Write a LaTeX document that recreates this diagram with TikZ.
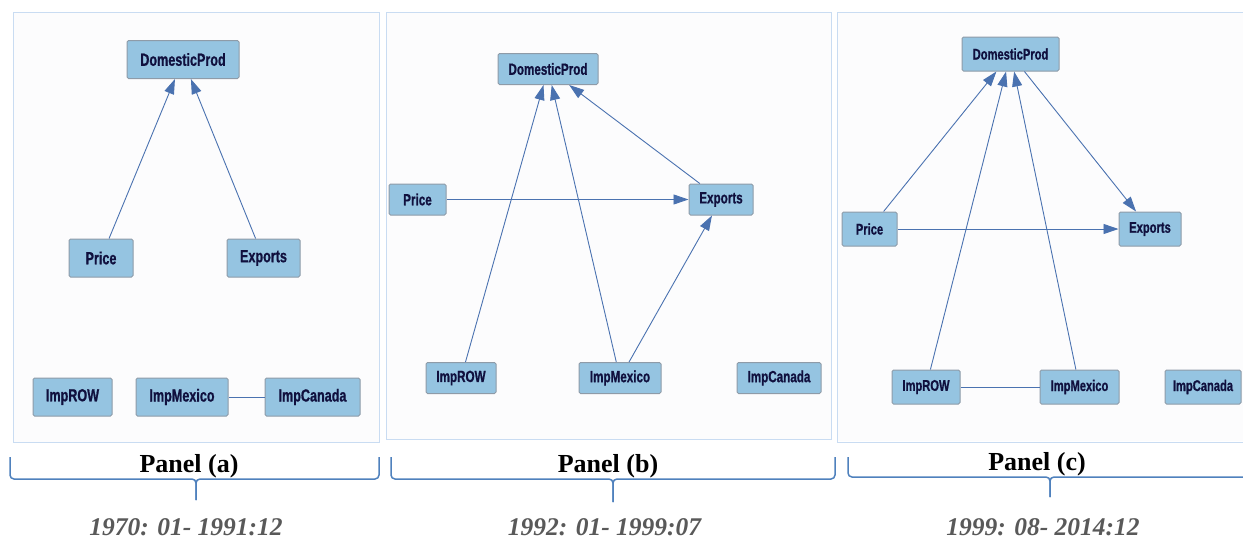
\documentclass[tikz,border=0pt]{standalone}
\usepackage{fontspec}
\setmainfont{Liberation Serif}
\newfontfamily\nodefont[FakeStretch=0.72, BoldFeatures={FakeBold=0.8}]{Liberation Sans}
\usetikzlibrary{arrows.meta}
\definecolor{nodefill}{HTML}{95C4E1}
\definecolor{nodeline}{HTML}{8E9BA8}
\definecolor{nodetext}{HTML}{10103E}
\definecolor{edgecol}{HTML}{4A72B0}
\definecolor{framecol}{HTML}{C9DCF2}
\definecolor{framefill}{HTML}{FCFCFD}
\definecolor{bracecol}{HTML}{4F81BD}
\definecolor{datecol}{HTML}{595959}
\tikzset{
  var/.style={draw=nodeline, line width=1pt, fill=nodefill, rounded corners=1.5pt,
    text=nodetext, inner sep=0pt, font=\nodefont\bfseries},
  vara/.style={var, minimum height=38pt, font=\nodefont\bfseries\fontsize{17.5}{18}\selectfont},
  varb/.style={var, minimum height=31pt, font=\nodefont\bfseries\fontsize{16.2}{17}\selectfont},
  varc/.style={var, minimum height=34pt, font=\nodefont\bfseries\fontsize{15.5}{16}\selectfont},
  dir/.style={draw=edgecol, line width=0.9pt, -{Triangle[length=15pt,width=10pt]}},
  undir/.style={draw=edgecol, line width=0.9pt},
  panelframe/.style={draw=framecol, line width=1pt, fill=framefill},
  bracestyle/.style={draw=bracecol, line width=1.5pt, rounded corners=4pt},
  paneltitle/.style={font=\bfseries\fontsize{26}{28}\selectfont, inner sep=0pt, anchor=base},
  datetext/.style={font=\bfseries\itshape\fontsize{25.5}{27}\selectfont, text=datecol,
    inner sep=0pt, text depth=0pt, anchor=base}
}
\begin{document}
\begin{tikzpicture}[x=1pt,y=-1pt]
\useasboundingbox (0,0) rectangle (1243,539);
% frames
\path[panelframe] (13,12) rectangle (379,442);
\path[panelframe] (386,12) rectangle (831,439);
\fill[framefill] (838,13) rectangle (1243,441);
\draw[framecol, line width=1pt] (1245,12) -- (837,12) -- (837,442) -- (1245,442);

% Panel (a)
\node[vara, minimum width=112pt] (aDP) at (183,59.5) {DomesticProd};
\node[vara, minimum width=64pt] (aPr) at (101,258) {Price};
\node[vara, minimum width=73pt] (aEx) at (263.5,258) {Exports};
\node[vara, minimum width=79pt] (aRow) at (72.5,397) {ImpROW};
\node[vara, minimum width=92pt] (aMex) at (182,397) {ImpMexico};
\node[vara, minimum width=95pt] (aCan) at (312.5,397) {ImpCanada};
\draw[dir] (aPr) -- (aDP);
\draw[dir] (aEx) -- (aDP);
\draw[undir] (aMex) -- (aCan);

% Panel (b)
\node[varb, minimum width=100pt] (bDP) at (548,69) {DomesticProd};
\node[varb, minimum width=57pt] (bPr) at (417.5,199.5) {Price};
\node[varb, minimum width=64pt] (bEx) at (721,199.5) {Exports};
\node[varb, minimum width=70pt] (bRow) at (461,378) {ImpROW};
\node[varb, minimum width=82pt] (bMex) at (620,378) {ImpMexico};
\node[varb, minimum width=84pt] (bCan) at (779,378) {ImpCanada};
\draw[dir] (bRow) -- (bDP);
\draw[dir] (bMex) -- (bDP);
\draw[dir] (bEx) -- (bDP);
\draw[dir] (bPr) -- (bEx);
\draw[dir] (bMex) -- (bEx);

% Panel (c)
\node[varc, minimum width=97pt] (cDP) at (1010.5,54) {DomesticProd};
\node[varc, minimum width=55pt] (cPr) at (869.5,229) {Price};
\node[varc, minimum width=62pt] (cEx) at (1150,229) {Exports};
\node[varc, minimum width=68pt] (cRow) at (926,387) {ImpROW};
\node[varc, minimum width=79pt] (cMex) at (1079.5,387) {ImpMexico};
\node[varc, minimum width=76pt] (cCan) at (1203,387) {ImpCanada};
\draw[dir] (cPr) -- (cDP);
\draw[dir] (cRow) -- (cDP);
\draw[dir] (cMex) -- (cDP);
\draw[dir] (cDP) -- (cEx);
\draw[dir] (cPr) -- (cEx);
\draw[undir] (cRow) -- (cMex);

% braces
\coordinate (ba) at (196,479);
\draw[bracestyle] (10,457) |- (ba) -- (196,500);
\draw[bracestyle] (379,457) |- (ba) -- (196,500);
\coordinate (bb) at (613,479);
\draw[bracestyle] (391,457) |- (bb) -- (613,502);
\draw[bracestyle] (835,457) |- (bb) -- (613,502);
\coordinate (bc) at (1050,477);
\draw[bracestyle] (848,457) |- (bc) -- (1050,497);
\draw[bracestyle] (1246,477) -- (bc) -- (1050,497);

% titles
\node[paneltitle] (ta) at (189,472) {Panel (a)};
\node[paneltitle] (tb) at (608,472) {Panel (b)};
\node[paneltitle] (tc) at (1037,470) {Panel (c)};
\node[datetext] (da) at (186,535) {1970: 01- 1991:12};
\node[datetext] (db) at (604.5,535) {1992: 01- 1999:07};
\node[datetext] (dc) at (1043,535) {1999: 08- 2014:12};
\end{tikzpicture}
\end{document}
